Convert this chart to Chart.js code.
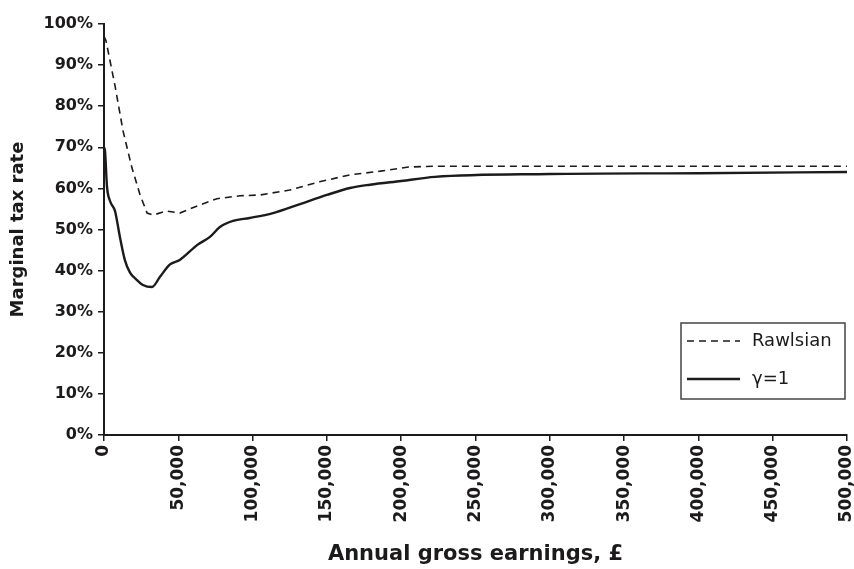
<!DOCTYPE html>
<html>
<head>
<meta charset="utf-8">
<script src="https://cdn.jsdelivr.net/npm/chart.js@4/dist/chart.umd.min.js"></script>
<style>
  html, body { margin: 0; padding: 0; background: #fff; }
  #wrap { width: 854px; height: 569px; }
</style>
</head>
<body>
<div id="wrap"><canvas id="chart"></canvas></div>
<script>
// earnings in £, rates in %
const rawlsianEarnings = [0, 1300, 7400, 12800, 18800, 24200, 29000, 33000, 42000, 51000, 64600, 76000, 91500, 105000, 125000, 145000, 165500, 186000, 205000, 222000, 300000, 400000, 500000]
const rawlsianRate = [97, 96, 85, 74, 65, 58.5, 54, 53.5, 54.5, 54, 56, 57.5, 58.2, 58.4, 59.6, 61.6, 63.3, 64.2, 65.2, 65.4, 65.4, 65.4, 65.4]

const gammaEarnings = [0, 700, 2000, 4000, 7400, 10800, 14100, 17500, 22200, 26200, 32300, 37700, 44400, 51000, 62600, 71300, 78000, 86800, 98000, 113700, 131900, 150000, 165500, 179000, 200000, 222700, 300000, 400000, 500000]
const gammaRate = [70, 69, 60.5, 57, 54.5, 48, 42.5, 39.5, 37.7, 36.5, 36, 38.5, 41.5, 42.6, 46.2, 48.2, 50.6, 52.1, 52.8, 54, 56.2, 58.4, 60.1, 60.9, 61.8, 62.8, 63.5, 63.7, 64]

const seriesNames = ['Rawlsian', 'γ=1']
const xTicks = [0, 50000, 100000, 150000, 200000, 250000, 300000, 350000, 400000, 450000, 500000]

const ink = '#1c1a1b'
const fontFamily = '"DejaVu Sans", sans-serif'

const toPoints = (xs, ys) => xs.map((x, i) => ({ x: x, y: ys[i] }))

// legend box drawn inside the plot, bottom right
const boxLegend = {
  id: 'boxLegend',
  afterDraw(chart) {
    const { ctx, chartArea } = chart
    const x = chartArea.right - 166, y = chartArea.bottom - 112
    ctx.save()
    ctx.strokeStyle = '#444'
    ctx.lineWidth = 1.5
    ctx.strokeRect(x, y, 164, 76)
    chart.data.datasets.forEach((ds, i) => {
      const ly = y + 18 + i * 38
      ctx.beginPath()
      ctx.strokeStyle = ink
      ctx.lineWidth = ds.borderWidth
      ctx.setLineDash(ds.borderDash || [])
      ctx.moveTo(x + 6, ly)
      ctx.lineTo(x + 59, ly)
      ctx.stroke()
      ctx.setLineDash([])
      ctx.fillStyle = ink
      ctx.font = '18px ' + fontFamily
      ctx.textBaseline = 'middle'
      ctx.fillText(ds.label, x + 71, ly)
    })
    ctx.restore()
  }
}

new Chart(document.getElementById('chart'), {
  type: 'line',
  data: {
    datasets: [
      {
        label: seriesNames[0],
        data: toPoints(rawlsianEarnings, rawlsianRate),
        borderColor: ink,
        borderWidth: 1.6,
        borderDash: [7, 5],
        pointRadius: 0,
        tension: 0
      },
      {
        label: seriesNames[1],
        data: toPoints(gammaEarnings, gammaRate),
        borderColor: ink,
        borderWidth: 2.4,
        pointRadius: 0,
        cubicInterpolationMode: 'monotone'
      }
    ]
  },
  options: {
    responsive: true,
    maintainAspectRatio: false,
    animation: false,
    layout: { padding: { left: 0, right: 7, top: 24, bottom: 0 } },
    plugins: {
      legend: { display: false },
      tooltip: { enabled: false }
    },
    scales: {
      x: {
        type: 'linear',
        min: 0,
        max: 500000,
        afterFit: s => { s.height = 134; s.paddingLeft = 0; s.paddingRight = 0 },
        afterBuildTicks: s => { s.ticks = xTicks.map(v => ({ value: v })) },
        grid: { display: true, drawOnChartArea: false, tickLength: 6, color: ink, lineWidth: 1.5 },
        border: { display: true, color: ink, width: 2 },
        ticks: {
          autoSkip: false,
          minRotation: 90,
          maxRotation: 90,
          padding: 4,
          color: ink,
          font: { family: fontFamily, size: 17, weight: 'bold' },
          callback: v => v.toLocaleString('en-US')
        },
        title: {
          display: true,
          text: 'Annual gross earnings, £',
          color: ink,
          padding: { top: 4, bottom: 2 },
          font: { family: fontFamily, size: 21, weight: 'bold' }
        }
      },
      y: {
        min: 0,
        max: 100,
        afterFit: s => { s.width = 104 },
        grid: { display: true, drawOnChartArea: false, tickLength: 6, color: ink, lineWidth: 1.5 },
        border: { display: true, color: ink, width: 2 },
        ticks: {
          stepSize: 10,
          padding: 5,
          color: ink,
          font: { family: fontFamily, size: 16, weight: 'bold' },
          callback: v => v + '%'
        },
        title: {
          display: true,
          text: 'Marginal tax rate',
          color: ink,
          padding: { top: 8, bottom: 4 },
          font: { family: fontFamily, size: 18, weight: 'bold' }
        }
      }
    }
  },
  plugins: [boxLegend]
})
</script>
</body>
</html>
